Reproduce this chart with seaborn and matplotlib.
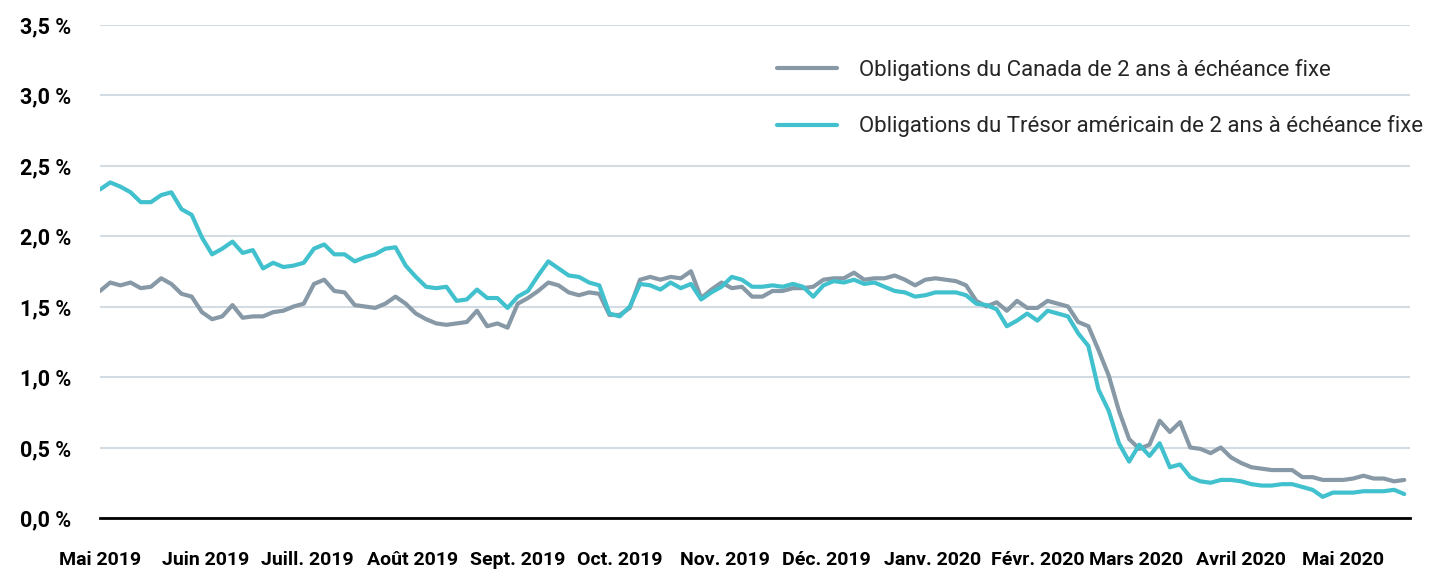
import pandas as pd
import seaborn as sns
import matplotlib
matplotlib.use("Agg")
from matplotlib import pyplot as plt

debut = "2019-05-01"
canada = [
    1.61, 1.67, 1.65, 1.67, 1.63, 1.64, 1.70, 1.66, 1.59, 1.57,
    1.46, 1.41, 1.43, 1.51, 1.42, 1.43, 1.43, 1.46, 1.47, 1.50,
    1.52, 1.66, 1.69, 1.61, 1.60, 1.51, 1.50, 1.49, 1.52, 1.57,
    1.52, 1.45, 1.41, 1.38, 1.37, 1.38, 1.39, 1.47, 1.36, 1.38,
    1.35, 1.52, 1.56, 1.61, 1.67, 1.65, 1.60, 1.58, 1.60, 1.59,
    1.44, 1.44, 1.49, 1.69, 1.71, 1.69, 1.71, 1.70, 1.75, 1.56,
    1.62, 1.67, 1.63, 1.64, 1.57, 1.57, 1.61, 1.61, 1.63, 1.63,
    1.64, 1.69, 1.70, 1.70, 1.74, 1.69, 1.70, 1.70, 1.72, 1.69,
    1.65, 1.69, 1.70, 1.69, 1.68, 1.65, 1.54, 1.50, 1.53, 1.47,
    1.54, 1.49, 1.49, 1.54, 1.52, 1.50, 1.39, 1.36, 1.19, 1.01,
    0.76, 0.56, 0.49, 0.52, 0.69, 0.61, 0.68, 0.50, 0.49, 0.46,
    0.50, 0.43, 0.39, 0.36, 0.35, 0.34, 0.34, 0.34, 0.29, 0.29,
    0.27, 0.27, 0.27, 0.28, 0.30, 0.28, 0.28, 0.26, 0.27,
]
tresor_us = [
    2.33, 2.38, 2.35, 2.31, 2.24, 2.24, 2.29, 2.31, 2.19, 2.15,
    1.99, 1.87, 1.91, 1.96, 1.88, 1.90, 1.77, 1.81, 1.78, 1.79,
    1.81, 1.91, 1.94, 1.87, 1.87, 1.82, 1.85, 1.87, 1.91, 1.92,
    1.79, 1.71, 1.64, 1.63, 1.64, 1.54, 1.55, 1.62, 1.56, 1.56,
    1.49, 1.57, 1.61, 1.72, 1.82, 1.77, 1.72, 1.71, 1.67, 1.65,
    1.45, 1.43, 1.50, 1.66, 1.65, 1.62, 1.67, 1.63, 1.66, 1.55,
    1.60, 1.64, 1.71, 1.69, 1.64, 1.64, 1.65, 1.64, 1.66, 1.64,
    1.57, 1.65, 1.68, 1.67, 1.69, 1.66, 1.67, 1.64, 1.61, 1.60,
    1.57, 1.58, 1.60, 1.60, 1.60, 1.58, 1.52, 1.51, 1.48, 1.36,
    1.40, 1.45, 1.40, 1.47, 1.45, 1.43, 1.31, 1.22, 0.91, 0.76,
    0.53, 0.40, 0.52, 0.44, 0.53, 0.36, 0.38, 0.29, 0.26, 0.25,
    0.27, 0.27, 0.26, 0.24, 0.23, 0.23, 0.24, 0.24, 0.22, 0.20,
    0.15, 0.18, 0.18, 0.18, 0.19, 0.19, 0.19, 0.20, 0.17,
]
mois = [
    "Mai 2019", "Juin 2019", "Juill. 2019", "Août 2019", "Sept. 2019",
    "Oct. 2019", "Nov. 2019", "Déc. 2019", "Janv. 2020", "Févr. 2020",
    "Mars 2020", "Avril 2020", "Mai 2020",
]
graduations_y = [0.0, 0.5, 1.0, 1.5, 2.0, 2.5, 3.0, 3.5]

nom_ca = "Obligations du Canada de 2 ans à échéance fixe"
nom_us = "Obligations du Trésor américain de 2 ans à échéance fixe"
gris = "#8799a6"
turquoise = "#41c1cd"

dates = pd.date_range(debut, periods=len(canada), freq="3D")
data = pd.concat([
    pd.DataFrame({"date": dates, "taux": canada, "serie": nom_ca}),
    pd.DataFrame({"date": dates, "taux": tresor_us, "serie": nom_us}),
], ignore_index=True)

sns.set_theme(style="white")
plt.rcParams["font.family"] = ["Roboto", "DejaVu Sans"]
plt.rcParams["lines.solid_joinstyle"] = "round"
plt.rcParams["lines.solid_capstyle"] = "round"

W, H = 1445, 571
fig = plt.figure(figsize=(W / 100, H / 100), dpi=100)
ax = fig.add_axes([100 / W, 1 - 518 / H, 1310 / W, (518 - 24.5) / H])

sns.lineplot(data=data, x="date", y="taux", hue="serie",
             palette=[gris, turquoise], linewidth=3, ax=ax)

ax.set_ylim(0, 3.5)
ax.set_xlim(dates[0], dates[-1] + pd.Timedelta(days=1.7))
ax.set_yticks(graduations_y)
ax.set_yticklabels([f"{v:.1f} %".replace(".", ",") for v in graduations_y],
                   fontsize=15.5, fontweight="bold", color="black")
debuts_mois = pd.date_range("2019-05-01", periods=len(mois), freq="MS")
ax.set_xticks(debuts_mois)
ax.set_xticklabels(mois, fontsize=14, fontweight="bold", color="black")
ax.tick_params(axis="x", length=0, pad=24)
ax.tick_params(axis="y", length=0, pad=21)
ax.set_xlabel("")
ax.set_ylabel("")

ax.yaxis.grid(True, color="#d3dce3", linewidth=1.5)
ax.xaxis.grid(False)
ax.set_axisbelow(True)
for cote in ["left", "right", "top"]:
    ax.spines[cote].set_visible(False)
ax.spines["bottom"].set_color("black")
ax.spines["bottom"].set_linewidth(2)

handles, labels = ax.get_legend_handles_labels()
ax.legend(handles, labels, loc="upper left", bbox_to_anchor=(777 / W, 1 - 59 / H),
          bbox_transform=fig.transFigure, frameon=False, fontsize=16,
          handlelength=2.7, handletextpad=1.0, labelspacing=1.55,
          borderpad=0, borderaxespad=0)

fig.savefig("out.png", dpi=100)
